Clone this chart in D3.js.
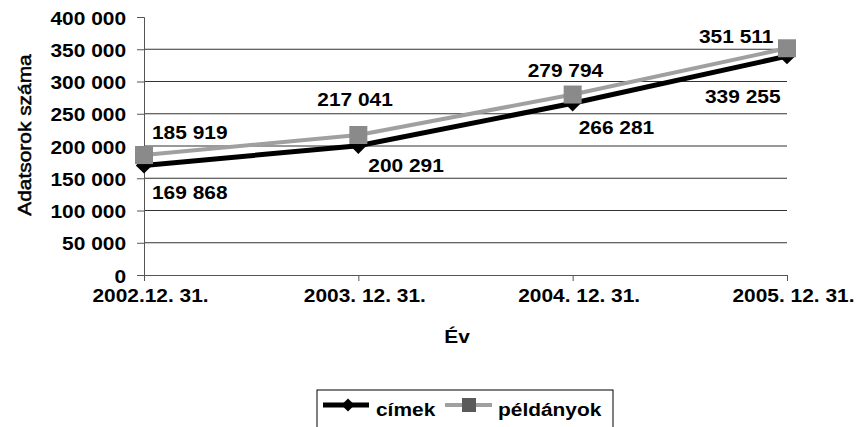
<!DOCTYPE html>
<html>
<head>
<meta charset="utf-8">
<script src="https://cdn.jsdelivr.net/npm/d3@7"></script>
<style>
  body { margin: 0; background: #fff; }
  svg text { font-family: 'Liberation Sans', Arial, sans-serif; font-weight: bold; font-size: 19px; fill: #000; }
</style>
</head>
<body>
<svg id="chart" width="864" height="427"></svg>
<script>
// data
const categories = ['2002.12. 31.', '2003. 12. 31.', '2004. 12. 31.', '2005. 12. 31.']
const cimek = [169868, 200291, 266281, 339255]
const peldanyok = [185919, 217041, 279794, 351511]
const yTicks = [0, 50000, 100000, 150000, 200000, 250000, 300000, 350000, 400000]
const seriesNames = ['címek', 'példányok']

// where each data label sits relative to its point
const cimekLabelOffset = [[8, 34], [10, 26], [6, 31], [-82, 47]]
const peldanyokLabelOffset = [[8, -16], [-41, -29], [-45, -18], [-88, -5]]

const sx = 1.1 // the original font is a bit wider than Arial
const locale = d3.formatLocale({ decimal: ',', thousands: ' ', grouping: [3], currency: ['', ''] })
const fmt = locale.format(',')

const svg = d3.select('#chart')
const margin = { top: 17, left: 144, right: 77, bottom: 152 }
const x = d3.scalePoint().domain(categories).range([margin.left, 864 - margin.right])
const y = d3.scaleLinear().domain([0, 400000]).range([427 - margin.bottom, margin.top])

// gridlines
svg.append('g')
  .selectAll('line')
  .data(yTicks.filter(d => d > 0 && d < 400000))
  .enter().append('line')
    .attr('x1', x.range()[0])
    .attr('x2', x.range()[1])
    .attr('y1', d => y(d))
    .attr('y2', d => y(d))
    .attr('stroke', '#333')
    .attr('stroke-width', 1)

// y axis
let yAxis = svg.append('g')
  .attr('transform', 'translate(' + margin.left + ',0)')
  .call(d3.axisLeft(y).tickValues(yTicks).tickSize(7).tickPadding(11).tickFormat(fmt))
yAxis.select('.domain').attr('stroke', '#555')
yAxis.selectAll('.tick line').attr('stroke', '#555')
yAxis.selectAll('.tick text')
  .attr('font-size', null).attr('font-family', null)
  .attr('dy', '0.38em')
  .attr('transform', 'scale(' + sx + ',1)')
  .attr('x', -18 / sx)

// x axis
let xAxis = svg.append('g')
  .attr('transform', 'translate(0,' + y(0) + ')')
  .call(d3.axisBottom(x).tickSize(6).tickSizeOuter(0))
xAxis.select('.domain').attr('stroke', '#555')
xAxis.selectAll('.tick line').attr('stroke', '#555')
xAxis.selectAll('.tick text')
  .attr('font-size', null).attr('font-family', null)
  .attr('dy', null)
  .attr('y', 27)
  .attr('x', 6 / sx)
  .attr('transform', 'scale(' + sx + ',1)')

// axis titles
svg.append('text')
  .attr('transform', 'translate(31,135) rotate(-90) scale(' + sx + ',1)')
  .attr('text-anchor', 'middle')
  .style('font-weight', 'normal')
  .attr('stroke', '#000').attr('stroke-width', 0.5)
  .text('Adatsorok száma')

svg.append('text')
  .attr('transform', 'translate(457,343) scale(' + sx + ',1)')
  .attr('text-anchor', 'middle')
  .text('Év')

// lines
let line = d3.line()
  .x((d, i) => x(categories[i]))
  .y(d => y(d))

svg.append('path')
  .datum(cimek)
  .attr('d', line)
  .attr('fill', 'none')
  .attr('stroke', '#000')
  .attr('stroke-width', 5)

svg.append('g').selectAll('path')
  .data(cimek)
  .enter().append('path')
    .attr('d', d3.symbol().type(d3.symbolDiamond2).size(170))
    .attr('transform', (d, i) => 'translate(' + x(categories[i]) + ',' + y(d) + ')')
    .attr('fill', '#000')

svg.append('path')
  .datum(peldanyok)
  .attr('d', line)
  .attr('fill', 'none')
  .attr('stroke', '#a0a0a0')
  .attr('stroke-width', 4)

svg.append('g').selectAll('rect')
  .data(peldanyok)
  .enter().append('rect')
    .attr('x', (d, i) => x(categories[i]) - 9)
    .attr('y', d => y(d) - 9)
    .attr('width', 18)
    .attr('height', 18)
    .attr('fill', '#8a8a8a')

// data labels
svg.append('g').selectAll('text')
  .data(cimek)
  .enter().append('text')
    .attr('transform', (d, i) => 'translate(' + (x(categories[i]) + cimekLabelOffset[i][0]) + ',' + (y(d) + cimekLabelOffset[i][1]) + ') scale(' + sx + ',1)')
    .text(d => fmt(d))

svg.append('g').selectAll('text')
  .data(peldanyok)
  .enter().append('text')
    .attr('transform', (d, i) => 'translate(' + (x(categories[i]) + peldanyokLabelOffset[i][0]) + ',' + (y(d) + peldanyokLabelOffset[i][1]) + ') scale(' + sx + ',1)')
    .text(d => fmt(d))

// legend
let legend = svg.append('g').attr('class', 'legend')
legend.append('rect')
  .attr('x', 317).attr('y', 390)
  .attr('width', 296).attr('height', 45)
  .attr('fill', 'none')
  .attr('stroke', '#000')

legend.append('line')
  .attr('x1', 323).attr('x2', 369).attr('y1', 405).attr('y2', 405)
  .attr('stroke', '#000').attr('stroke-width', 5)
legend.append('path')
  .attr('d', d3.symbol().type(d3.symbolDiamond2).size(110))
  .attr('transform', 'translate(348,405)')
  .attr('fill', '#000')
legend.append('text')
  .attr('transform', 'translate(376,416) scale(' + sx + ',1)')
  .text(seriesNames[0])

legend.append('line')
  .attr('x1', 445).attr('x2', 492).attr('y1', 405).attr('y2', 405)
  .attr('stroke', '#a0a0a0').attr('stroke-width', 4)
legend.append('rect')
  .attr('x', 462).attr('y', 398).attr('width', 14).attr('height', 14)
  .attr('fill', '#5a5a5a')
legend.append('text')
  .attr('transform', 'translate(498,416) scale(' + sx + ',1)')
  .text(seriesNames[1])
</script>
</body>
</html>
